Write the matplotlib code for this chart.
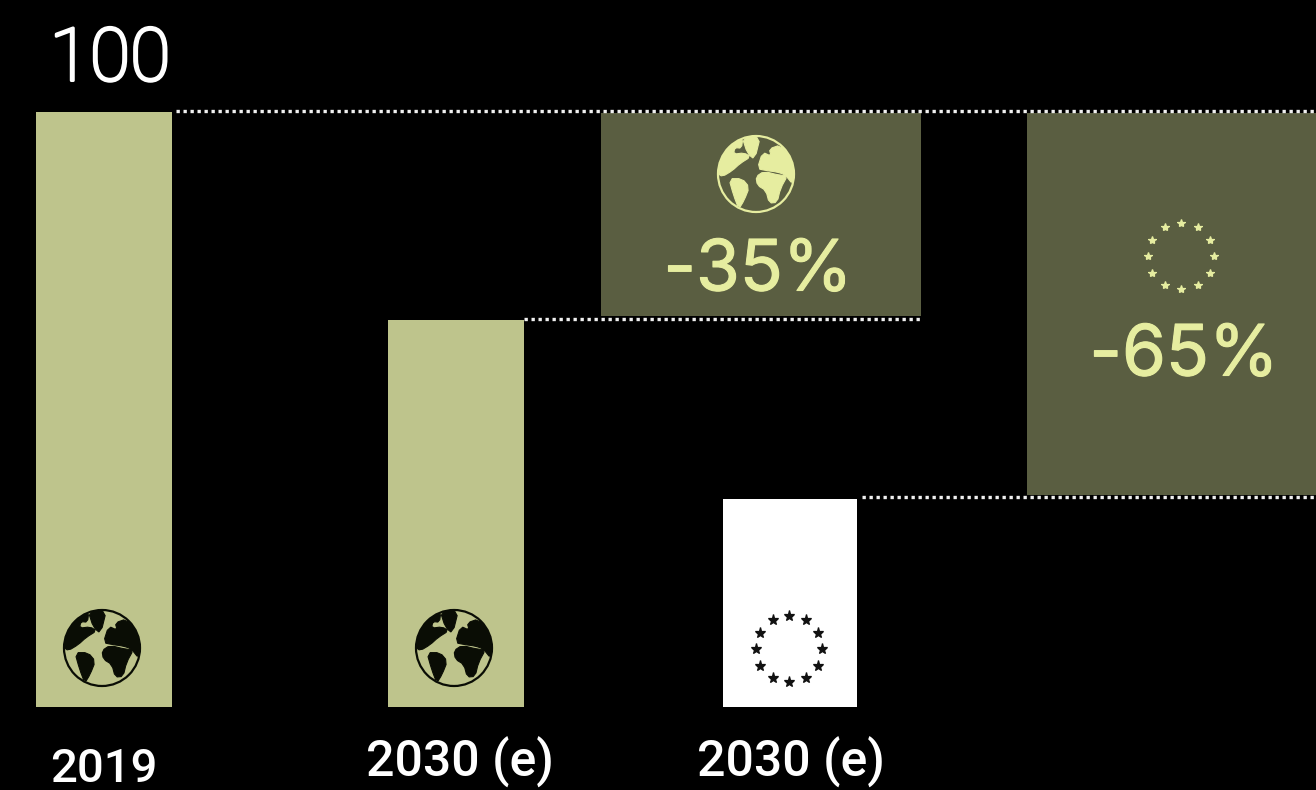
"""Emission reduction steps: 2019 baseline against the 2030 estimates, world and EU."""

import numpy as np
import matplotlib

matplotlib.use("Agg")  # headless batch rendering
import matplotlib.pyplot as plt
import matplotlib.patheffects as pe
from matplotlib.patches import Circle, Polygon, Rectangle

# data
bar_labels = ["2019", "2030 (e)", "2030 (e)"]
bar_values = [100, 65, 35]
reductions = [-35, -65]
reduction_labels = ["-35%", "-65%"]
baseline_label = "100"

BG = "#000000"
BAR_GREEN = "#BEC48C"
BAR_WHITE = "#FFFFFF"
PANEL = "#5A5E41"
ACCENT = "#E6EDA0"
FONT = "Roboto"

W, H = 1316, 790
Y0_PX = 707          # pixel row of value 0
PX_PER_UNIT = 5.95

# globe shapes on a 252-wide icon grid, centre (126, 126), radius 115
CONTINENTS = [
    # north america
    [(10, 124), (20, 74), (54, 30), (86, 18), (82, 48), (62, 46), (58, 66), (90, 62), (110, 74),
     (78, 94), (54, 116), (24, 134)],
    # greenland
    [(84, 14), (140, 10), (122, 82), (100, 64)],
    # south america
    [(44, 140), (84, 140), (106, 166), (90, 206), (74, 232), (58, 190)],
    # eurasia
    [(130, 110), (146, 60), (172, 72), (166, 50), (200, 38), (232, 78), (248, 124), (238, 158),
     (214, 128), (190, 120), (160, 116)],
    # africa
    [(126, 134), (150, 118), (198, 130), (222, 130), (200, 170), (190, 212), (166, 214),
     (156, 176), (130, 160)],
]


def smooth(shape, passes=1):
    # corner cutting so the coastlines do not look faceted
    pts = np.asarray(shape, dtype=float)
    for _ in range(passes):
        nxt = np.roll(pts, -1, axis=0)
        pts = np.column_stack([0.75 * pts + 0.25 * nxt, 0.25 * pts + 0.75 * nxt]).reshape(-1, 2)
    return pts


def draw_globe(ax, cx, cy, r, color):
    ax.add_patch(Circle((cx, cy), r, fill=False, ec=color, lw=1.6))
    clip = Circle((cx, cy), r, transform=ax.transData)
    for shape in CONTINENTS:
        pts = (smooth(shape) - 126) * r / 115 + [cx, cy]
        poly = Polygon(pts, closed=True, fc=color, ec=color, lw=0.8)
        ax.add_patch(poly)
        poly.set_clip_path(clip)


def draw_eu_stars(ax, cx, cy, r, color, size):
    ang = np.deg2rad(np.arange(0, 360, 30))
    ax.plot(cx + r * np.cos(ang), cy + r * np.sin(ang), ls="none", marker="*",
            ms=size, mfc=color, mec=color, mew=0.9)


fig = plt.figure(figsize=(W / 100, H / 100), dpi=100, facecolor=BG)

# value axes: bars and reduction panels share the 0-100 scale
ax = fig.add_axes([0, 0, 1, 1], facecolor=BG)
ax.set_xlim(0, W)
ax.set_ylim((Y0_PX - H) / PX_PER_UNIT, Y0_PX / PX_PER_UNIT)
ax.axis("off")

bar_x = [36, 388, 723]
bar_w = [136, 136, 134]
bar_colors = [BAR_GREEN, BAR_GREEN, BAR_WHITE]
ax.bar(bar_x, bar_values, width=bar_w, align="edge", color=bar_colors, linewidth=0)

panel_x = [601, 1027]
panel_w = [320, 289]
for x, w, red in zip(panel_x, panel_w, reductions):
    low = 100 + red
    ax.add_patch(Rectangle((x, low + 0.7), w, -red - 0.9, fc=PANEL, ec="none"))

# dotted guides from the top of each bar across to the panels
guides = [(176, W, bar_values[0]), (524, 921, bar_values[1]), (862, W, bar_values[2])]
for x0, x1, val in guides:
    ax.plot([x0, x1], [val + 0.25, val + 0.25], color="#F0F0F0", lw=2.4,
            ls=(0, (1.0, 1.1)), solid_capstyle="butt")

# overlay in pixel space for icons and labels, keeps the circles round
ov = fig.add_axes([0, 0, 1, 1], facecolor="none")
ov.set_xlim(0, W)
ov.set_ylim(H, 0)
ov.axis("off")

draw_globe(ov, 102, 648, 38, "#0A0D05")
draw_globe(ov, 454, 648, 38, "#0A0D05")
draw_globe(ov, 756, 174, 38, ACCENT)
draw_eu_stars(ov, 789, 649, 33, "#111111", 8)
draw_eu_stars(ov, 1181, 256, 33, ACCENT, 6)

# the light cut is too thin at display size, so thicken it with a same-colour stroke
thick_white = [pe.withStroke(linewidth=2.2, foreground="white")]
thick_accent = [pe.withStroke(linewidth=0.8, foreground=ACCENT)]

ov.text(110, 60, baseline_label, color="white", fontsize=53, family=FONT, weight="light",
        ha="center", va="center", path_effects=thick_white)
ov.text(758, 272, reduction_labels[0], color=ACCENT, fontsize=51, family="Inter",
        ha="center", va="center", path_effects=thick_accent)
ov.text(1184, 357, reduction_labels[1], color=ACCENT, fontsize=51, family="Inter",
        ha="center", va="center", path_effects=thick_accent)

label_pos = [(104, 769), (460, 762), (791, 762)]
label_size = [34, 36, 36]
for (x, y), lab, size in zip(label_pos, bar_labels, label_size):
    ov.text(x, y, lab, color="white", fontsize=size, family=FONT, weight="medium",
            ha="center", va="center")

fig.savefig("out.png", dpi=100, facecolor=BG)
